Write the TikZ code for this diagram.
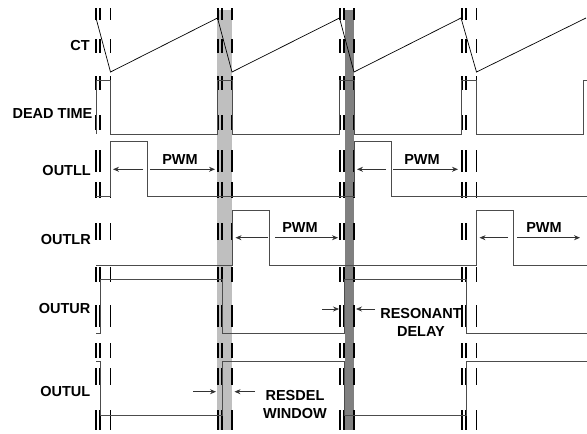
\documentclass[tikz,border=0pt]{standalone}
\usepackage{fontspec}
\setmainfont{Liberation Sans}
\usetikzlibrary{arrows.meta}

\begin{document}
\begin{tikzpicture}[x = 1pt, y = -1pt,
    lbl/.style = {font = \fontsize{14.5}{18}\selectfont\bfseries, inner sep = 0pt},
    wave/.style = {color = black!70, line width = 0.9pt},
    guide/.style = {line width = 1.9pt},
    span/.style = {-{Stealth[length = 6pt, width = 5pt]}, line width = 0.7pt, color = black!80}]
    \useasboundingbox (0, 0) rectangle (587, 434);

    % windows
    \fill[color = lightgray] (217, 10) rectangle (232, 430);
    \fill[color = gray] (345, 10) rectangle (354, 430);

    % guide lines
    \foreach \x in {96, 100, 110.5, 218, 222, 232, 340, 344, 354, 462, 466, 476.5}
        \foreach \a/\b in {8/20, 39/53, 76/90, 115/130, 150/172, 182/198, 223/240, 267/282, 305/327, 343/358, 368/385, 410/430}
            \draw[guide] (\x, \a) -- (\x, \b);

    \draw[line width = 0.7pt] (96, 18) -- (110.5, 72) -- (217.5, 18) -- (232, 72) -- (339.5, 18) -- (354, 72) -- (461, 18) -- (476.5, 72) -- (586, 18);
    \draw[wave] (96, 134) -- (96, 80) -- ++ (14.5, 0) |- (217.5, 134) -- (217.5, 80) -- ++ (14.5, 0) |- (339.5, 134) -- (339.5, 80) -- ++ (14.5, 0) |- (461, 134) -- (461, 80) -- ++ (15.5, 0) |- (583, 134) |- (587, 80);
    \draw[wave] (96, 196) -| (110.5, 141.7) -| (147, 196) -| (354, 141.7) -| (391, 196) -- (587, 196);
    \draw[wave] (96, 265) -| (232, 210) -| (269, 265) -| (476.5, 210) -| (513, 265) -- (587, 265);
    \draw[wave] (96, 333) -| (100, 279) -| (222, 333) -| (344.5, 279) -| (466, 333) -- (587, 333);
    \draw[wave] (96, 361) -| (100, 415.7) -| (222, 361) -| (344.5, 415.7) -| (466, 361) -- (587, 361);

    \node[lbl, anchor = east] (ct) at (90, 45.7) {CT};
    \node[lbl, anchor = east] (deadtime) at (92.5, 113.3) {DEAD TIME};
    \node[lbl, anchor = east] (outll) at (91, 170.7) {OUTLL};
    \node[lbl, anchor = east] (outlr) at (91, 240) {OUTLR};
    \node[lbl, anchor = east] (outur) at (90.5, 308.3) {OUTUR};
    \node[lbl, anchor = east] (outul) at (90.5, 391.7) {OUTUL};

    % PWM
    \draw[span] (143, 169.3) -- (113, 169.3);
    \draw[span] (150, 169.3) -- (215, 169.3);
    \node[lbl] (pwma) at (180, 160) {PWM};
    \draw[span] (386, 169.3) -- (357, 169.3);
    \draw[span] (393, 169.3) -- (458, 169.3);
    \node[lbl] (pwmb) at (422, 160) {PWM};
    \draw[span] (268, 237.7) -- (235.5, 237.7);
    \draw[span] (275, 237.7) -- (338, 237.7);
    \node[lbl] (pwmc) at (300, 228) {PWM};
    \draw[span] (508, 237.7) -- (479.5, 237.7);
    \draw[span] (517, 237.7) -- (580, 237.7);
    \node[lbl] (pwmd) at (544, 228) {PWM};

    \draw[span] (322, 309) -- (339, 309);
    \draw[span] (375, 309) -- (356, 309);
    \node[lbl, align = center] (resdelay) at (421, 322.5) {RESONANT\\DELAY};

    \draw[span] (193, 391.7) -- (216, 391.7);
    \draw[span] (255, 391.7) -- (234.5, 391.7);
    \node[lbl, align = center] (window) at (295, 404.5) {RESDEL\\WINDOW};
\end{tikzpicture}
\end{document}
